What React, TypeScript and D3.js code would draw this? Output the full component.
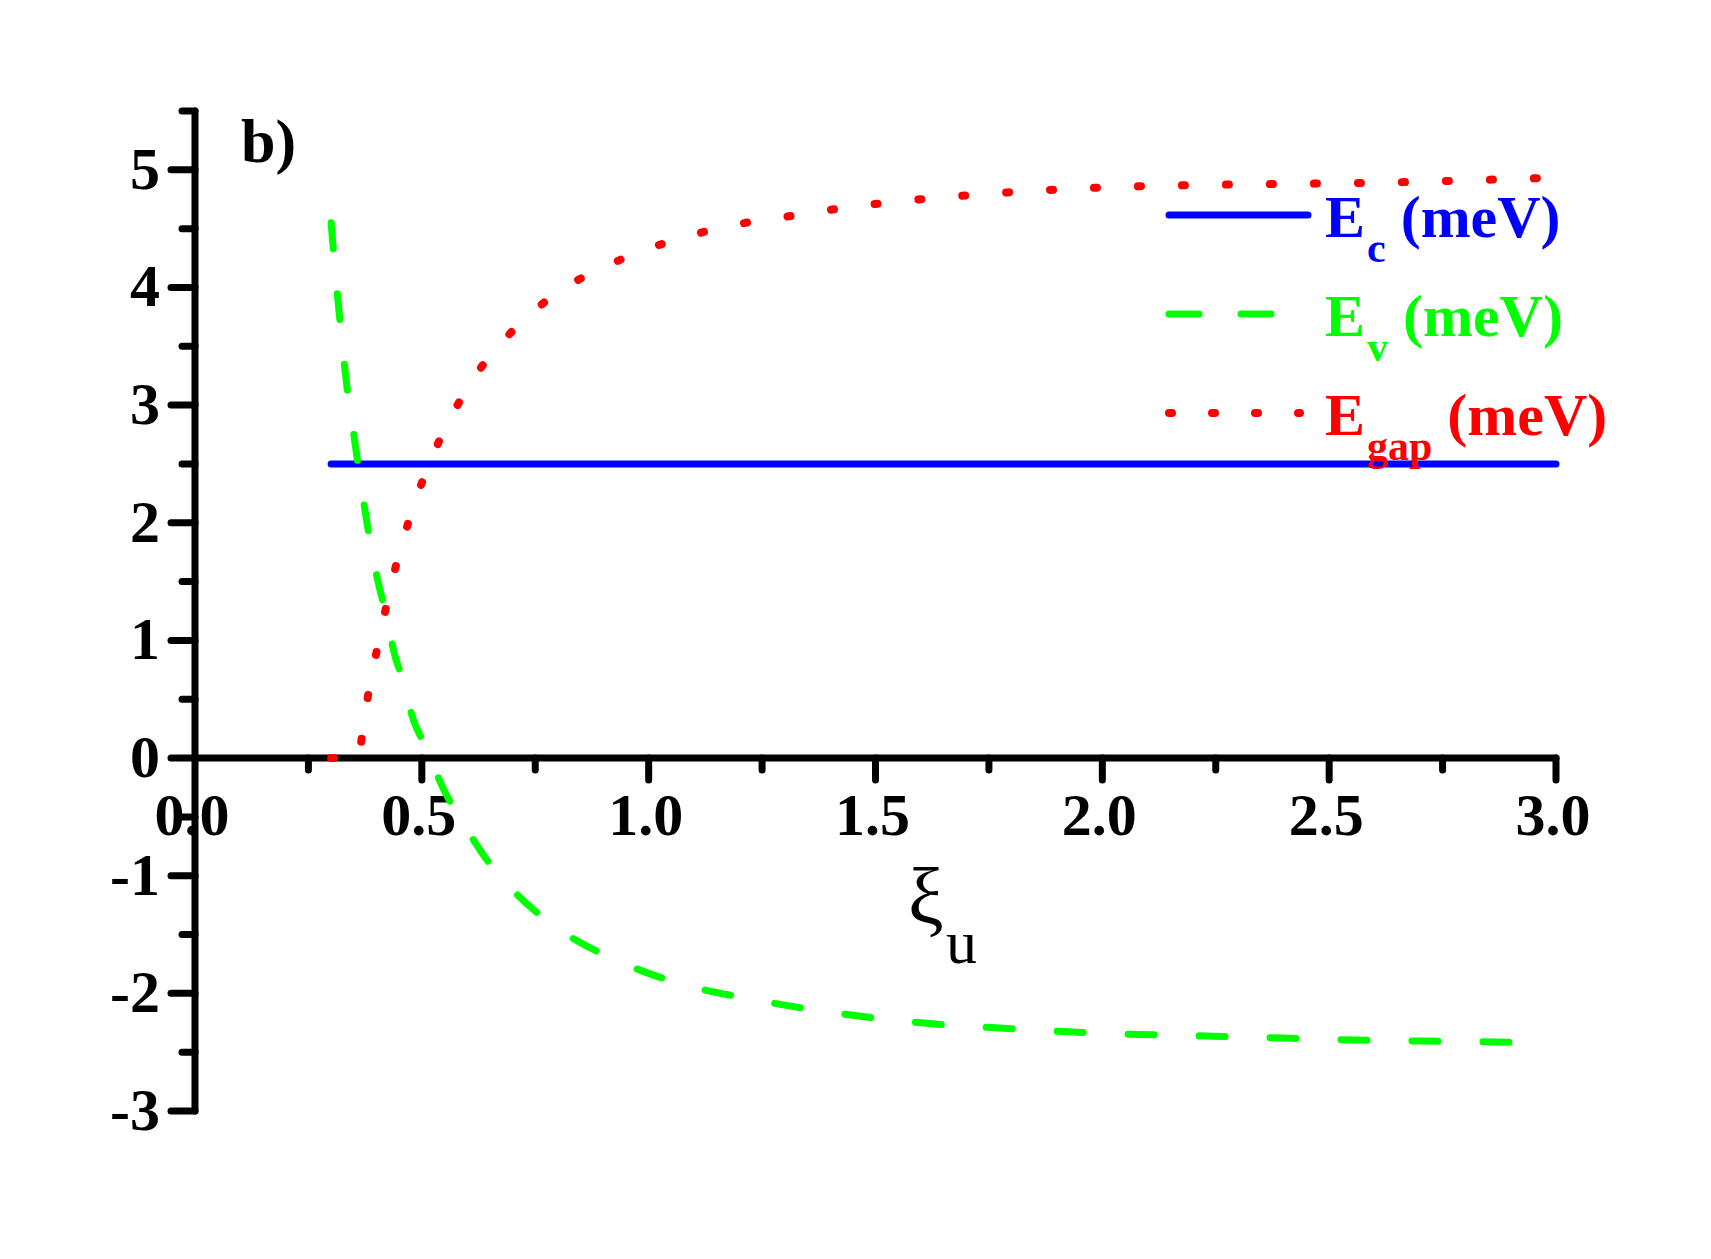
import React from "react";
import * as d3 from "d3";

// xi_u values (x) and energies in meV
const ecX = [0.3, 3.0];
const ecY = [2.5, 2.5];

const evX = [0.3, 0.31, 0.32, 0.33, 0.34, 0.35, 0.36, 0.38, 0.4, 0.42, 0.44, 0.46, 0.48, 0.5, 0.52, 0.55, 0.6, 0.65, 0.7, 0.8, 0.9, 1.0, 1.1, 1.2, 1.3, 1.4, 1.5, 1.6, 1.8, 2.0, 2.2, 2.4, 2.6, 2.8, 2.95];
const evY = [4.55, 4.1, 3.7, 3.32, 3.0, 2.75, 2.48, 1.98, 1.56, 1.24, 0.88, 0.64, 0.34, 0.16, -0.02, -0.28, -0.61, -0.9, -1.12, -1.45, -1.67, -1.83, -1.95, -2.03, -2.1, -2.16, -2.21, -2.25, -2.3, -2.34, -2.36, -2.38, -2.4, -2.41, -2.42];

const gapX = [0.3, 0.33, 0.36, 0.37, 0.38, 0.4, 0.42, 0.44, 0.47, 0.5, 0.54, 0.6, 0.65, 0.7, 0.8, 0.9, 1.0, 1.1, 1.2, 1.3, 1.4, 1.5, 1.6, 1.8, 2.0, 2.2, 2.4, 2.6, 2.8, 2.97];
const gapY = [0, 0, 0, 0.25, 0.5, 0.9, 1.26, 1.59, 2.0, 2.34, 2.71, 3.14, 3.42, 3.63, 3.96, 4.17, 4.33, 4.45, 4.54, 4.6, 4.66, 4.71, 4.75, 4.81, 4.85, 4.87, 4.88, 4.89, 4.91, 4.93];

const xMajor = [0, 0.5, 1.0, 1.5, 2.0, 2.5, 3.0];
const xTickLabels = ["0.0", "0.5", "1.0", "1.5", "2.0", "2.5", "3.0"];
const xMinor = [0.25, 0.75, 1.25, 1.75, 2.25, 2.75];
const yMajor = [-3, -2, -1, 0, 1, 2, 3, 4, 5];
const yTickLabels = ["-3", "-2", "-1", "0", "1", "2", "3", "4", "5"];
const yMinor = [-2.5, -1.5, -0.5, 0.5, 1.5, 2.5, 3.5, 4.5, 5.5];

const W = 1711;
const H = 1259;
const FONT = "'Liberation Serif', 'Times New Roman', serif";

const x = d3.scaleLinear().domain([0, 3]).range([195, 1556]);
const y = d3.scaleLinear().domain([-3, 5.5]).range([1111, 111]);

const toPts = (xs: number[], ys: number[]) => xs.map((v, i) => [v, ys[i]] as [number, number]);

const line = d3
  .line<[number, number]>()
  .x((d) => x(d[0]))
  .y((d) => y(d[1]))
  .curve(d3.curveMonotoneX);

export default function App() {
  const y0 = y(0);
  const axisW = 7;

  const legendRows = [
    { label: "E", sub: "c", color: "#0000ff", dash: "", y: 215 },
    { label: "E", sub: "v", color: "#00ff00", dash: "30,42", y: 314 },
    { label: "E", sub: "gap", color: "#ff0000", dash: "3,40", y: 413 },
  ];

  return (
    <div style={{ position: "absolute", left: 0, top: 0 }}>
      <svg width={W} height={H} style={{ display: "block", background: "#fff" }} fontFamily={FONT}>
        {/* y axis */}
        <line x1={x(0)} x2={x(0)} y1={y(-3)} y2={y(5.5)} stroke="#000" strokeWidth={axisW} strokeLinecap="round" />
        {yMajor.map((v) => (
          <line key={"ym" + v} x1={x(0) - 24} x2={x(0)} y1={y(v)} y2={y(v)} stroke="#000" strokeWidth={7} strokeLinecap="round" />
        ))}
        {yMinor.map((v) => (
          <line key={"yn" + v} x1={x(0) - 13} x2={x(0)} y1={y(v)} y2={y(v)} stroke="#000" strokeWidth={7} strokeLinecap="round" />
        ))}
        {yMajor.map((v, i) => (
          <text key={"yl" + v} x={160} y={y(v) + 19} textAnchor="end" fontSize={60} fontWeight="bold" fill="#000">
            {yTickLabels[i]}
          </text>
        ))}

        {/* x axis */}
        <line x1={x(0)} x2={x(3)} y1={y0} y2={y0} stroke="#000" strokeWidth={axisW} strokeLinecap="round" />
        {xMajor.slice(1).map((v) => (
          <line key={"xm" + v} x1={x(v)} x2={x(v)} y1={y0} y2={y0 + 22} stroke="#000" strokeWidth={7} strokeLinecap="round" />
        ))}
        {xMinor.map((v) => (
          <line key={"xn" + v} x1={x(v)} x2={x(v)} y1={y0} y2={y0 + 12} stroke="#000" strokeWidth={7} strokeLinecap="round" />
        ))}
        {xMajor.map((v, i) => (
          <text key={"xl" + v} x={x(v) - 3} y={y0 + 77} textAnchor="middle" fontSize={60} fontWeight="bold" fill="#000">
            {xTickLabels[i]}
          </text>
        ))}

        {/* axis title */}
        <text x={908} y={924} fontSize={80} fill="#000">ξ</text>
        <text x={946} y={963} fontSize={62} fill="#000">u</text>

        {/* panel label */}
        <text x={241} y={162} fontSize={62} fontWeight="bold" fill="#000">b)</text>

        {/* curves */}
        <path d={line(toPts(ecX, ecY)) || ""} fill="none" stroke="#0000ff" strokeWidth={7} strokeLinecap="round" />
        <path d={line(toPts(evX, evY)) || ""} fill="none" stroke="#00ff00" strokeWidth={7} strokeLinecap="round" strokeDasharray="26,45" />
        <path d={line(toPts(gapX, gapY)) || ""} fill="none" stroke="#ff0000" strokeWidth={8} strokeLinecap="round" strokeDasharray="3,41" />

        {/* legend */}
        {legendRows.map((r) => (
          <g key={r.sub}>
            <line
              x1={1169}
              x2={r.sub === "v" ? 1275 : r.sub === "gap" ? 1300 : 1308}
              y1={r.y}
              y2={r.y}
              stroke={r.color}
              strokeWidth={r.sub === "gap" ? 8 : 7}
              strokeLinecap="round"
              strokeDasharray={r.dash || undefined}
            />
            <text x={1325} y={r.y + 22} fontSize={60} fontWeight="bold" fill={r.color}>
              <tspan>{r.label}</tspan>
              <tspan x={1367} dy={25} fontSize={42}>{r.sub}</tspan>
              <tspan dy={-25}>{" (meV)"}</tspan>
            </text>
          </g>
        ))}
      </svg>
    </div>
  );
}
